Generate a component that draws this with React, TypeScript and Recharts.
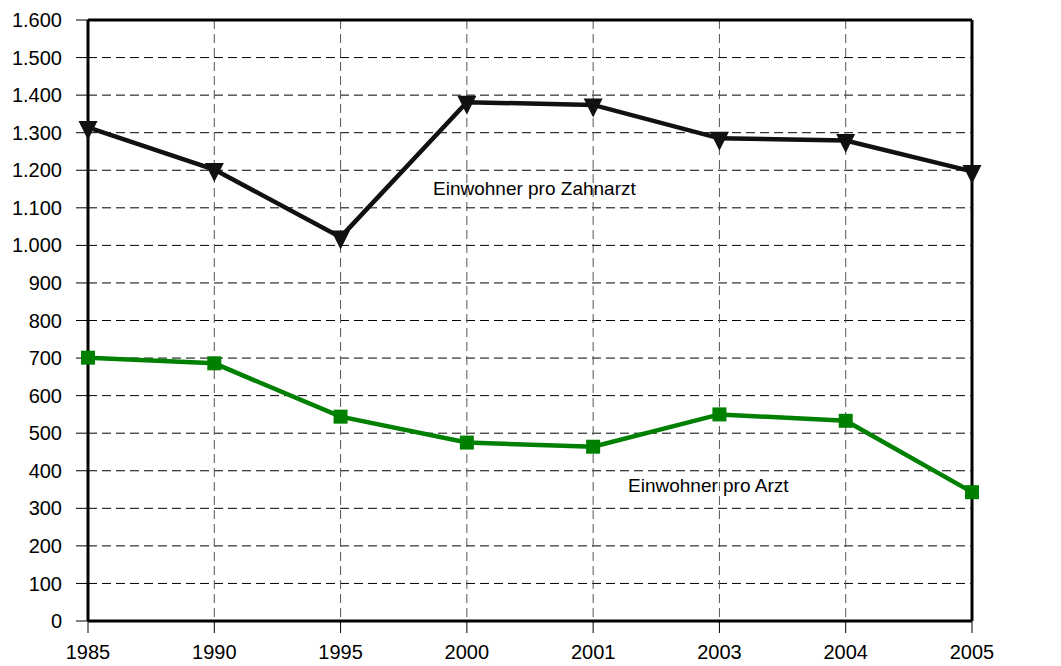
import React from 'react';
import { LineChart, Line, XAxis, YAxis, CartesianGrid, ReferenceLine, Customized } from 'recharts';

const years = ['1985', '1990', '1995', '2000', '2001', '2003', '2004', '2005'];
const zahnarztValues = [1314, 1202, 1022, 1381, 1374, 1285, 1279, 1197];
const arztValues = [701, 686, 544, 475, 464, 550, 533, 343];
const yTicks = [0, 100, 200, 300, 400, 500, 600, 700, 800, 900, 1000, 1100, 1200, 1300, 1400, 1500, 1600];
const labelZahnarzt = 'Einwohner pro Zahnarzt';
const labelArzt = 'Einwohner pro Arzt';

const data = years.map((y, i) => ({ year: y, zahnarzt: zahnarztValues[i], arzt: arztValues[i] }));

const FONT = '"Liberation Sans", Arial, sans-serif';
const FS = 20;

const fmt = (v: number) =>
  v >= 1000 ? `${Math.floor(v / 1000)}.${String(v % 1000).padStart(3, '0')}` : String(v);

const TriDot = (props: any) => {
  const { cx, cy } = props;
  if (cx == null || cy == null) return null;
  return <path d={`M${cx - 9.5},${cy - 6.5} L${cx + 9.5},${cy - 6.5} L${cx},${cy + 12.5} Z`} fill="#111" />;
};

const SquareDot = (props: any) => {
  const { cx, cy } = props;
  if (cx == null || cy == null) return null;
  return <rect x={cx - 7} y={cy - 7} width={14} height={14} fill="#008000" />;
};

const Labels = () => (
  <g fontFamily={FONT} fontSize={19} fill="#000">
    <text x={433} y={195}>{labelZahnarzt}</text>
    <text x={628} y={492}>{labelArzt}</text>
  </g>
);

const tickStyle = { fill: '#000', fontSize: FS, fontFamily: FONT };

export default function App() {
  return (
    <div style={{ position: 'absolute', left: 0, top: 0, width: 1061, height: 666, background: '#fff' }}>
      <LineChart width={1061} height={666} data={data} margin={{ top: 20, right: 0, bottom: 0, left: 0 }}>
        <CartesianGrid horizontal={true} vertical={false} stroke="#000" strokeDasharray="9 5" yAxisId="left" />
        <CartesianGrid horizontal={false} vertical={true} stroke="#555" strokeDasharray="9 5" yAxisId="left" />
        <XAxis
          dataKey="year"
          height={45}
          padding={{ left: 0, right: 0 }}
          tickSize={12}
          tickMargin={12}
          tick={tickStyle}
          axisLine={{ stroke: '#000', strokeWidth: 3 }}
          tickLine={{ stroke: '#000', strokeWidth: 1 }}
          interval={0}
        />
        <YAxis
          yAxisId="left"
          domain={[0, 1600]}
          ticks={yTicks}
          width={88}
          tickFormatter={fmt}
          tickSize={12}
          tickMargin={14}
          tick={tickStyle}
          axisLine={{ stroke: '#000', strokeWidth: 3 }}
          tickLine={{ stroke: '#000', strokeWidth: 1 }}
          interval={0}
        />
        <YAxis
          yAxisId="right"
          orientation="right"
          domain={[0, 1600]}
          ticks={yTicks}
          width={89}
          tickFormatter={fmt}
          tickSize={13}
          tickMargin={13}
          tick={{ ...tickStyle, textAnchor: 'start' }}
          axisLine={{ stroke: '#000', strokeWidth: 3 }}
          tickLine={{ stroke: '#000', strokeWidth: 1 }}
          interval={0}
        />
        <ReferenceLine yAxisId="left" y={1600} stroke="#000" strokeWidth={3} />
        <Line
          yAxisId="left"
          type="linear"
          dataKey="arzt"
          stroke="#008000"
          strokeWidth={4.5}
          dot={<SquareDot />}
          activeDot={false}
          isAnimationActive={false}
        />
        <Line
          yAxisId="left"
          type="linear"
          dataKey="zahnarzt"
          stroke="#111"
          strokeWidth={4.5}
          dot={<TriDot />}
          activeDot={false}
          isAnimationActive={false}
        />
        <Customized component={<Labels />} />
      </LineChart>
    </div>
  );
}
